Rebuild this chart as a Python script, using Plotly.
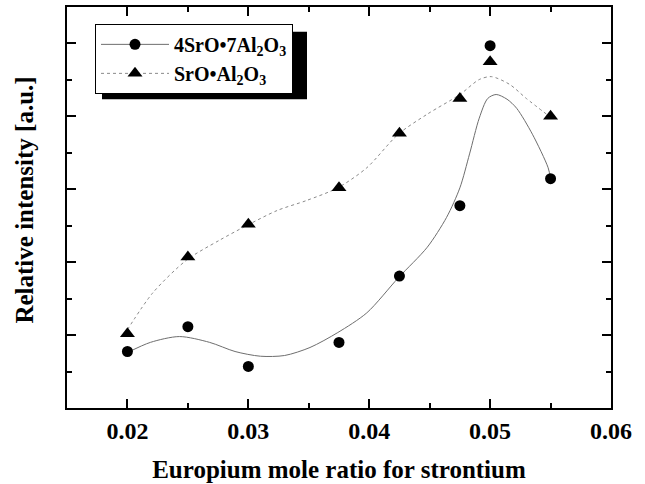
import plotly.graph_objects as go

# Measured data points
x_pts = [0.02, 0.025, 0.03, 0.0375, 0.0425, 0.0475, 0.05, 0.055]
y_4sro = [1.55, 2.23, 1.14, 1.80, 3.62, 5.55, 9.94, 6.29]
y_sro = [2.04, 4.14, 5.04, 6.04, 7.54, 8.49, 9.50, 8.00]

# Fitted curves
fit1_x = [0.0200, 0.0219, 0.0243, 0.0268, 0.0289, 0.0310, 0.0330, 0.0351, 0.0374, 0.0398,
          0.0424, 0.0448, 0.0464, 0.0475, 0.0483, 0.0491, 0.0498, 0.0505, 0.0514, 0.0522,
          0.0535, 0.0548, 0.0550]
fit1_y = [1.52, 1.80, 1.96, 1.80, 1.55, 1.42, 1.44, 1.66, 2.07, 2.61,
          3.57, 4.41, 5.23, 6.04, 6.97, 7.95, 8.49, 8.60, 8.47, 8.22,
          7.51, 6.59, 6.29]
fit2_x = [0.0200, 0.0221, 0.0249, 0.0276, 0.0299, 0.0324, 0.0348, 0.0374, 0.0398, 0.0424,
          0.0448, 0.0475, 0.0491, 0.0501, 0.0516, 0.0530, 0.0549]
fit2_y = [2.15, 3.16, 4.06, 4.60, 5.01, 5.42, 5.69, 6.04, 6.59, 7.51,
          8.06, 8.60, 9.01, 9.09, 8.88, 8.49, 8.00]

names = ["4SrO\u20227Al<sub>2</sub>O<sub>3</sub>", "SrO\u2022Al<sub>2</sub>O<sub>3</sub>"]
x_title = "Europium mole ratio for strontium"
y_title = "Relative intensity [a.u.]"

FONT = "Liberation Serif"
fig = go.Figure()

fig.add_trace(go.Scatter(x=fit1_x, y=fit1_y, mode="lines", line=dict(color="#6e6e6e", width=1, shape="spline", smoothing=0.8),
                         showlegend=False, hoverinfo="skip"))
fig.add_trace(go.Scatter(x=fit2_x, y=fit2_y, mode="lines", line=dict(color="#8a8a8a", width=1, dash="dot", shape="spline", smoothing=0.8),
                         showlegend=False, hoverinfo="skip"))
fig.add_trace(go.Scatter(x=x_pts, y=y_4sro, mode="markers", marker=dict(symbol="circle", size=11, color="black"),
                         showlegend=False))
fig.add_trace(go.Scatter(x=x_pts, y=y_sro, mode="markers", marker=dict(symbol="triangle-up", size=13, color="black"),
                         showlegend=False))
# legend entries
fig.add_trace(go.Scatter(x=[None], y=[None], mode="lines+markers", name=names[0],
                         line=dict(color="#6e6e6e", width=1), marker=dict(symbol="circle", size=11, color="black")))
fig.add_trace(go.Scatter(x=[None], y=[None], mode="lines+markers", name=names[1],
                         line=dict(color="#8a8a8a", width=1, dash="dot"), marker=dict(symbol="triangle-up", size=13, color="black")))

# legend shadow
fig.add_shape(type="rect", xref="paper", yref="paper", x0=(102 - 67) / 544, x1=(307 - 67) / 544,
              y0=(409 - 98) / 404, y1=(409 - 30) / 404,
              fillcolor="black", line=dict(width=0), layer="below")

# y-axis title
fig.add_annotation(text=y_title, xref="paper", yref="paper", x=0, y=(409 - 200) / 404,
                   xanchor="center", yanchor="middle", xshift=-42, textangle=-90, showarrow=False,
                   font=dict(size=25, family=FONT, weight="bold", color="black"))

axis_common = dict(showline=True, linecolor="black", linewidth=2, mirror="ticks", ticks="inside",
                   tickcolor="black", tickwidth=2, showgrid=False, zeroline=False)

fig.update_layout(
    width=645, height=484,
    margin=dict(l=67, r=34, t=5, b=75),
    paper_bgcolor="white", plot_bgcolor="white",
    font=dict(family=FONT, color="black", size=18, weight="bold"),
    xaxis=dict(range=[0.015, 0.06], tick0=0.02, dtick=0.01, ticklen=9, tickformat=".2f",
               tickfont=dict(size=24, family=FONT, weight="bold"),
               minor=dict(dtick=0.005, tick0=0.02, ticklen=5, ticks="inside", tickcolor="black", tickwidth=2),
               title=dict(text=x_title, font=dict(size=25, family=FONT, weight="bold"), standoff=18),
               **axis_common),
    yaxis=dict(range=[0, 11], tick0=0, dtick=2, ticklen=9, showticklabels=False,
               minor=dict(dtick=1, tick0=0, ticklen=5, ticks="inside", tickcolor="black", tickwidth=2),
               **axis_common),
    legend=dict(x=(95 - 67) / 544, y=(409 - 22) / 404, xanchor="left", yanchor="top", bgcolor="white",
                bordercolor="black", borderwidth=1, font=dict(size=20, family=FONT, weight="bold"),
                tracegroupgap=0, itemwidth=68, entrywidth=190, entrywidthmode="pixels"),
)

fig.write_html("out.html")
